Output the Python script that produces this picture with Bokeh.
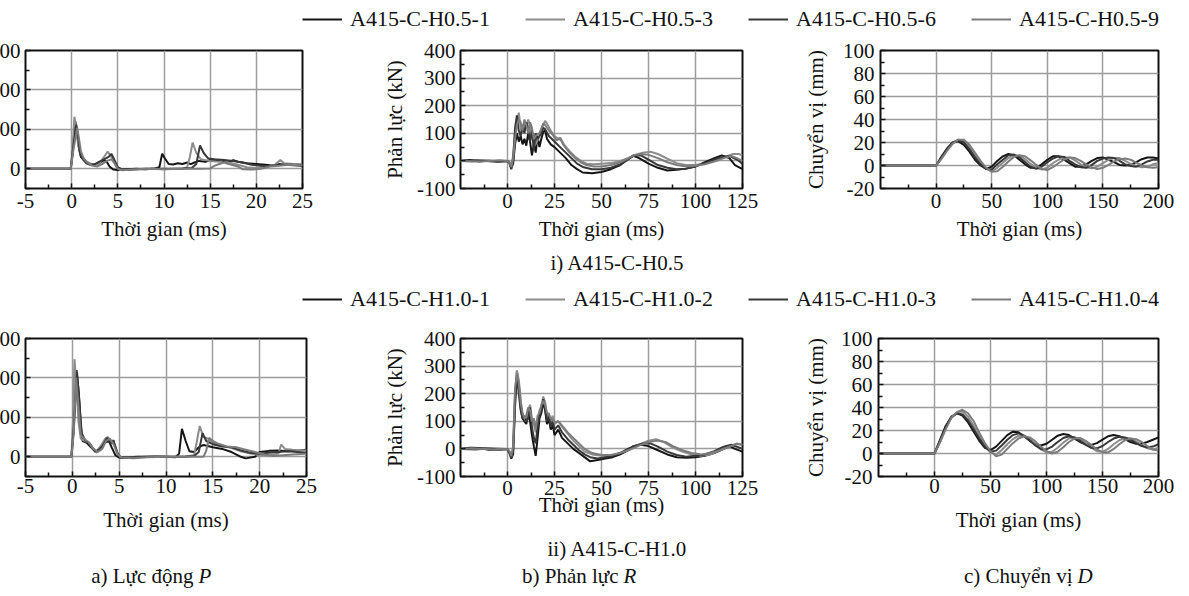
import numpy as np
from bokeh.plotting import figure
from bokeh.models import Range1d, FixedTicker, Legend, LegendItem, Label
from bokeh.layouts import column, row
from bokeh.embed import file_html
from bokeh.resources import INLINE

FONT = "Liberation Serif"
FS = "21px"
LEG_FS = "22px"

SERIES_H05 = ["A415-C-H0.5-1", "A415-C-H0.5-3", "A415-C-H0.5-6", "A415-C-H0.5-9"]
SERIES_H10 = ["A415-C-H1.0-1", "A415-C-H1.0-2", "A415-C-H1.0-3", "A415-C-H1.0-4"]
COLORS = ["#151515", "#8c8c8c", "#383838", "#7c7c7c"]

ROW_TITLES = ["i) A415-C-H0.5", "ii) A415-C-H1.0"]
COL_CAPTIONS = [("a) Lực động", "P"), ("b) Phản lực", "R"), ("c) Chuyển vị", "D")]
X_LABEL = "Thời gian (ms)"
R_LABEL = "Phản lực (kN)"
D_LABEL = "Chuyển vị (mm)"

# ---------- a) dynamic force P (kN) vs time (ms) ----------
P05_1 = [(-5, 0), (-0.1, 0), (0.1, 200), (0.4, 600), (0.6, 450), (0.8, 250), (1.0, 150), (1.3, 120), (1.6, 80),
         (2, 60), (2.5, 40), (3, 70), (3.5, 110), (3.8, 90), (4.1, 30), (4.5, -10), (5, -15), (6, -5), (7, 0),
         (8, -5), (9, 5), (9.5, 20), (9.8, 190), (10.1, 130), (10.5, 60), (11, 55), (11.5, 70), (12, 60),
         (12.5, 80), (12.9, 60), (13.3, 80), (13.8, 100), (14.5, 90), (15, 110), (16, 100), (17, 80), (17.5, 110),
         (18, 90), (19, 70), (20, 60), (21, 50), (22, 40), (22.5, 60), (23, 50), (24, 45), (25, 40)]
P05_2 = [(-5, 0), (-0.1, 0), (0.1, 250), (0.3, 660), (0.5, 500), (0.7, 300), (1, 180), (1.5, 100), (2, 70),
         (2.5, 40), (3, 60), (3.5, 150), (3.9, 220), (4.3, 150), (4.8, 30), (5.2, -10), (6, -15), (7, -10),
         (8, -5), (9, 0), (10, -5), (11, 0), (12, 0), (12.5, 20), (12.8, 150), (13.1, 333), (13.5, 200),
         (14, 120), (14.5, 110), (15, 100), (16, 90), (16.5, 110), (17, 80), (18, 50), (19, 20), (20, 10),
         (21, 30), (22, 50), (22.6, 110), (23, 70), (24, 60), (25, 55)]
P05_3 = [(-5, 0), (-0.1, 0), (0.2, 300), (0.5, 560), (0.7, 400), (0.9, 200), (1.2, 120), (1.6, 70), (2, 50),
         (2.5, 60), (3, 90), (3.5, 120), (4, 150), (4.3, 190), (4.6, 120), (5, 20), (5.5, -10), (6.5, -5),
         (8, 0), (10, 0), (12, 5), (13, 10), (13.5, 60), (13.9, 295), (14.3, 200), (14.8, 130), (15.5, 120),
         (16.5, 110), (17.5, 100), (18.5, 80), (19.5, 50), (20.5, 40), (21.5, 35), (22.5, 50), (23.5, 50), (25, 50)]
P05_4 = [(-5, 0), (-0.1, 0), (0.2, 250), (0.6, 520), (0.8, 380), (1, 220), (1.3, 130), (1.7, 80), (2.2, 40),
         (2.8, 30), (3.3, 60), (3.8, 100), (4.3, 120), (4.6, 80), (5, 0), (5.5, -20), (6.5, -10), (8, 0),
         (10, -5), (12, 0), (14, 0), (15, 5), (15.5, 40), (16, 60), (16.5, 80), (17, 60), (18, 30), (18.5, -5),
         (19.5, -10), (20.5, 0), (21.5, 30), (22.5, 40), (23.5, 50), (25, 45)]

P10_1 = [(-5, 0), (-0.1, 0), (0.1, 300), (0.45, 1100), (0.7, 800), (0.9, 400), (1.1, 200), (1.5, 180), (2, 120),
         (2.5, 60), (3, 120), (3.5, 180), (3.9, 200), (4.2, 120), (4.6, 20), (5, -10), (6, -5), (7, 0), (8, 0),
         (9, 5), (10, 0), (11, -5), (11.4, 40), (11.7, 355), (12.1, 200), (12.5, 70), (13, 60), (13.5, 120),
         (14, 150), (15, 120), (16, 100), (17, 60), (18, 0), (18.5, -20), (19.5, 0), (20, 60), (21, 75), (22, 80),
         (23, 70), (24, 80), (25, 90)]
P10_2 = [(-5, 0), (-0.1, 0), (0.05, 400), (0.23, 1238), (0.45, 900), (0.65, 450), (0.9, 230), (1.3, 200),
         (1.8, 180), (2.2, 100), (2.6, 50), (3, 130), (3.5, 230), (3.8, 250), (4.1, 200), (4.5, 150), (4.9, 30),
         (5.3, -20), (6, -10), (7, -5), (9, 0), (11, 0), (12, 5), (13, 20), (13.3, 200), (13.6, 390), (14, 250),
         (14.5, 230), (15, 180), (16, 140), (17, 110), (18, 70), (19, 40), (20, 20), (21, 15), (22, 40),
         (22.3, 155), (22.7, 100), (23.5, 90), (25, 80)]
P10_3 = [(-5, 0), (-0.1, 0), (0.15, 350), (0.5, 1070), (0.75, 700), (1, 300), (1.4, 200), (1.9, 160), (2.4, 70),
         (2.8, 80), (3.3, 150), (3.7, 240), (4.1, 170), (4.4, 210), (4.8, 50), (5.2, -15), (6, -10), (8, 0),
         (10, 0), (12, 0), (13, 10), (13.5, 60), (13.9, 300), (14.3, 200), (15, 160), (16, 130), (17, 120),
         (18, 80), (19, 50), (20, 40), (21, 50), (22, 60), (23, 70), (24, 60), (25, 50)]
P10_4 = [(-5, 0), (-0.1, 0), (0.15, 300), (0.4, 1000), (0.65, 650), (0.9, 280), (1.3, 220), (1.7, 190),
         (2.2, 110), (2.7, 60), (3.2, 100), (3.6, 200), (4, 230), (4.4, 160), (4.8, 40), (5.2, -10), (6.5, -20),
         (8, -5), (10, 0), (12, 0), (14, 0), (14.3, 80), (14.6, 240), (15, 200), (15.5, 170), (16.5, 130),
         (17.5, 120), (18.5, 90), (19.5, 60), (20.5, 30), (21.5, 10), (22.5, 20), (23.5, 30), (25, 40)]

# ---------- b) reaction force R (kN) vs time (ms) ----------
R05_1 = [(-25, 0), (-20, 3), (-15, -2), (-10, 1), (-5, -3), (0, 0), (1, -5), (2, -25), (3, -10), (4, 60), (5, 100),
         (6, 70), (7, 90), (8, 60), (9, 80), (10, 55), (11, 100), (12, 70), (13, 20), (14, 60), (15, 30), (16, 90),
         (17, 50), (18, 80), (19, 105), (20, 110), (21, 80), (23, 60), (25, 50), (28, 30), (31, 10), (34, -15),
         (37, -30), (40, -42), (45, -45), (50, -40), (55, -30), (60, -15), (64, 5), (67, 18), (70, 10), (75, -10),
         (80, -25), (85, -35), (90, -32), (95, -28), (100, -20), (105, -5), (110, 10), (114, 20), (118, 10),
         (121, -15), (125, -30)]
R05_2 = [(-25, 0), (-18, -2), (-12, 2), (-6, -1), (0, 0), (1, -5), (2, -20), (3, 20), (4, 100), (5, 140), (6, 175),
         (7, 120), (8, 100), (9, 140), (10, 120), (11, 150), (12, 130), (13, 90), (14, 100), (15, 60), (17, 90),
         (19, 130), (20, 145), (21, 135), (23, 110), (25, 90), (27, 80), (28, 85), (30, 60), (33, 35), (36, 15),
         (39, 0), (42, -10), (46, -12), (50, -10), (55, -8), (60, 0), (64, 10), (68, 22), (72, 30), (76, 33),
         (80, 25), (85, 8), (90, -8), (95, -15), (100, -15), (105, -10), (110, 0), (115, 12), (120, 25),
         (123, 25), (125, 20)]
R05_3 = [(-25, 0), (-16, 2), (-8, -2), (0, 0), (1, -8), (2, -30), (3, 0), (4, 120), (5, 165), (6, 110), (7, 90),
         (8, 130), (9, 100), (10, 140), (11, 120), (12, 70), (13, 110), (14, 40), (15, 100), (16, 80), (17, 90),
         (18, 100), (19, 120), (20, 115), (22, 90), (25, 70), (28, 50), (31, 30), (34, 10), (37, -10), (40, -22),
         (45, -30), (50, -30), (55, -25), (60, -12), (64, 5), (67, 20), (71, 20), (75, 5), (80, -15), (85, -25),
         (90, -30), (95, -28), (100, -20), (105, -8), (110, 5), (115, 15), (118, 18), (122, 5), (125, -10)]
R05_4 = [(-25, 0), (-14, -2), (-4, 2), (0, 0), (1, -5), (2, -22), (3, 10), (4, 80), (5, 130), (6, 150), (7, 140),
         (8, 110), (9, 150), (10, 130), (11, 100), (12, 140), (13, 120), (14, 80), (15, 90), (17, 100), (19, 135),
         (20, 130), (22, 110), (24, 95), (26, 75), (28, 80), (30, 55), (33, 30), (36, 10), (39, -5), (42, -15),
         (46, -20), (50, -20), (55, -15), (60, -5), (64, 8), (67, 20), (71, 25), (75, 22), (80, 10), (85, -5),
         (90, -15), (95, -20), (100, -18), (105, -12), (110, -2), (115, 10), (119, 18), (122, 10), (125, 0)]

R10_1 = [(-25, 0), (-20, 4), (-15, 3), (-10, -3), (-5, -2), (0, 0), (1, -15), (2, -35), (3, -20), (4, 150),
         (5, 280), (6, 230), (7, 150), (8, 110), (9, 100), (10, 90), (11, 130), (12, 100), (13, 50), (14, 10),
         (15, -25), (16, 40), (17, 110), (18, 130), (19, 170), (20, 140), (21, 90), (22, 110), (23, 70), (24, 90),
         (25, 50), (27, 70), (29, 40), (32, 20), (35, 0), (38, -15), (41, -30), (44, -45), (48, -40), (52, -35),
         (56, -30), (60, -20), (64, -5), (67, 10), (71, 15), (75, 10), (80, -5), (85, -20), (90, -30), (95, -32),
         (100, -30), (105, -25), (110, -15), (115, 0), (118, 10), (121, 0), (125, -10)]
R10_2 = [(-25, 0), (-17, -3), (-9, 3), (0, 0), (1, -10), (2, -30), (3, 0), (4, 200), (5, 285), (6, 250), (7, 180),
         (8, 120), (9, 110), (10, 100), (11, 140), (12, 160), (13, 110), (14, 90), (15, 60), (16, 100), (17, 140),
         (18, 150), (19, 190), (20, 170), (21, 120), (22, 130), (23, 100), (24, 120), (25, 90), (27, 100),
         (29, 80), (32, 55), (35, 30), (38, 10), (41, -10), (45, -20), (50, -25), (55, -25), (60, -15), (65, 0),
         (70, 15), (75, 30), (79, 35), (83, 25), (88, 5), (93, -10), (98, -20), (103, -25), (108, -20),
         (113, -5), (118, 10), (122, 20), (125, 15)]
R10_3 = [(-25, 0), (-12, 2), (-4, -3), (0, 0), (1, -12), (2, -30), (3, -5), (4, 180), (5, 260), (6, 200),
         (7, 140), (8, 110), (9, 120), (10, 100), (11, 110), (12, 150), (13, 80), (14, 40), (15, 20), (16, 80),
         (17, 120), (18, 140), (19, 180), (20, 150), (21, 100), (22, 120), (23, 80), (24, 100), (25, 70),
         (27, 85), (29, 60), (32, 35), (35, 15), (38, -5), (41, -20), (44, -30), (48, -35), (52, -30), (56, -25),
         (60, -15), (64, 0), (68, 12), (72, 20), (76, 20), (80, 8), (85, -10), (90, -22), (95, -28), (100, -25),
         (105, -20), (110, -8), (115, 8), (119, 15), (122, 8), (125, 0)]
R10_4 = [(-25, 0), (-19, 2), (-7, -2), (0, 0), (1, -8), (2, -25), (3, 10), (4, 220), (5, 270), (6, 240), (7, 170),
         (8, 130), (9, 110), (10, 120), (11, 150), (12, 140), (13, 100), (14, 110), (15, 70), (16, 120),
         (17, 130), (18, 160), (19, 175), (20, 160), (21, 130), (22, 125), (23, 110), (24, 105), (25, 95),
         (27, 100), (29, 85), (32, 60), (35, 40), (38, 20), (41, 0), (45, -15), (50, -22), (55, -22), (60, -15),
         (65, -3), (70, 12), (75, 25), (80, 30), (84, 25), (88, 10), (93, -5), (98, -15), (103, -20), (108, -15),
         (113, -5), (118, 8), (122, 18), (125, 15)]

# ---------- c) displacement D (mm) vs time (ms) ----------
D_T = [-50, 0, 5, 10, 15, 20, 25, 30, 35, 40, 45, 50, 55, 60, 65, 70, 75, 80, 85, 90, 95, 100,
       105, 110, 115, 120, 125, 130, 135, 140, 145, 150, 155, 160, 165, 170, 175, 180, 185, 190, 195, 200]
D05_1 = [0, 0, 8, 15, 20, 21, 18, 12, 5, 0, -3, -1, 4, 8, 10, 9, 5, 1, -2, -2, 1, 5,
         8, 8, 5, 2, -1, -1, 1, 4, 6.5, 7, 5, 3, 0.5, 0, 0.5, 3, 5.5, 7, 7, 6]
D05_2 = [0, 0, 6.5, 13.5, 19.5, 22.5, 21, 16, 9, 2.5, -2.5, -5, -2, 2.5, 6.5, 9, 8.5, 5.5, 1.5, -2, -3.5, -2,
         2, 5, 7, 7, 4.5, 1, -1.5, -2.5, -1, 2, 5, 6.5, 6.5, 4, 1.5, -0.5, -1.5, -1, 1, 2]
D05_3 = [0, 0, 7, 14, 20, 22, 20, 14, 7, 1, -3, -3.5, 1, 5, 9, 9.5, 7, 3, -1, -3, -1, 3,
         6, 8, 7.5, 4, 1, -1.5, -2, 0.5, 4, 6, 7, 6.5, 4, 1, -0.5, -1, 1, 3.5, 5, 5]
D05_4 = [0, 0, 6, 13, 19, 22.5, 22.5, 18, 11, 4, -2, -5.5, -5, -1, 3.5, 7.5, 9, 8, 4.5, 0.5, -3, -4,
         -1.5, 2, 5, 7, 6.5, 4, 1, -1.5, -3, -2, 0.5, 3.5, 5.5, 6, 5, 2.5, 0, -1.5, -2, -1.5]

D10_1 = [0, 0, 12, 24, 32, 35, 33, 27, 19, 11, 5, 3, 6, 11, 16, 19, 18.5, 15, 11, 8, 7, 8.5,
         12, 15.5, 17, 16, 13, 10, 8, 7.5, 9, 12, 15, 16, 15, 12.5, 10, 8.5, 8.5, 10, 12, 14]
D10_2 = [0, 0, 10, 22, 31, 36, 36.5, 32, 24, 15, 7, 1, -1, 3, 8, 12.5, 15.5, 15.5, 12.5, 8, 3.5, 1,
         1.5, 5, 9.5, 13, 14, 12.5, 9, 5, 2, 1.5, 4, 8, 11.5, 13.5, 13, 10.5, 7, 4.5, 3.5, 5]
D10_3 = [0, 0, 11, 23, 31, 35, 34, 29, 21, 13, 6, 1.5, 2.5, 7, 12, 16, 17.5, 15.5, 11.5, 7, 4, 3.5,
         6, 10, 13.5, 15, 14, 11, 7.5, 5, 4.5, 6.5, 10, 13, 14.5, 14, 12, 9, 6.5, 5.5, 6, 8]
D10_4 = [0, 0, 10, 21, 31, 36, 38, 35, 28, 18, 9, 2, -2.5, -1, 4, 9, 13, 15, 14, 10.5, 6, 2,
         0, 1.5, 5.5, 10, 13, 13.5, 11, 7.5, 3.5, 1, 1, 4, 8, 11.5, 13, 12.5, 10, 6.5, 3.5, 2.5]

# axis definitions
P_XR, P_XT, P_XM = (-5, 25), [-5, 0, 5, 10, 15, 20, 25], [-2.5, 2.5, 7.5, 12.5, 17.5, 22.5]
P_YR, P_YT, P_YM = (-250, 1500), [0, 500, 1000, 1500], [-250, 250, 750, 1250]
R_XR, R_XT, R_XM = (-25, 125), [0, 25, 50, 75, 100, 125], [-12.5, 12.5, 37.5, 62.5, 87.5, 112.5]
R_YR, R_YT, R_YM = (-100, 400), [-100, 0, 100, 200, 300, 400], [-50, 50, 150, 250, 350]
D_XR, D_XT, D_XM = (-50, 200), [0, 50, 100, 150, 200], [-25, 25, 75, 125, 175]
D_YR, D_YT, D_YM = (-20, 100), [-20, 0, 20, 40, 60, 80, 100], [-10, 10, 30, 50, 70, 90]

ROOT_W = 1205


def plain_minus(ticks):
    return {t: ("-" + str(abs(t))) for t in ticks if t < 0}


def panel(w, h, bl, br, bt, bb, xr, xt, xm, yr, yt, ym, ylabel, ystand, ylab_stand, xstand, xlab_stand, curves):
    p = figure(width=w, height=h, title=None, x_range=Range1d(*xr), y_range=Range1d(*yr),
               output_backend="svg", toolbar_location=None,
               min_border_left=bl, min_border_right=br, min_border_top=bt, min_border_bottom=bb)
    p.background_fill_color = "white"
    p.border_fill_color = "white"
    p.outline_line_color = "#111111"
    p.outline_line_width = 2
    p.xaxis.ticker = FixedTicker(ticks=xt, minor_ticks=xm)
    p.yaxis.ticker = FixedTicker(ticks=yt, minor_ticks=ym)
    p.xaxis.major_label_overrides = plain_minus(xt)
    p.yaxis.major_label_overrides = plain_minus(yt)
    for ax in (p.xaxis[0], p.yaxis[0]):
        ax.axis_line_color = None
        ax.major_tick_in = 5
        ax.major_tick_out = 0
        ax.minor_tick_in = 4
        ax.minor_tick_out = 0
        ax.major_tick_line_color = "#111111"
        ax.minor_tick_line_color = "#111111"
        ax.major_tick_line_width = 1.5
        ax.minor_tick_line_width = 1.5
        ax.major_label_text_font = FONT
        ax.major_label_text_font_size = FS
        ax.major_label_text_color = "#111111"
        ax.axis_label_text_font = FONT
        ax.axis_label_text_font_size = FS
        ax.axis_label_text_font_style = "normal"
        ax.axis_label_text_color = "#111111"
    p.xaxis.axis_label = X_LABEL
    p.xaxis.major_label_standoff = xstand
    p.xaxis.axis_label_standoff = xlab_stand
    if ylabel:
        p.yaxis.axis_label = ylabel
    p.yaxis.major_label_standoff = ystand
    p.yaxis.axis_label_standoff = ylab_stand
    p.grid.grid_line_color = "#9c9c9c"
    p.grid.grid_line_width = 1.5
    for (xs, ys), c in zip(curves, COLORS):
        p.line(xs, ys, line_color=c, line_width=2)
    return p


def unzip(pts):
    return [a for a, _ in pts], [b for _, b in pts]


def blank_fig(h):
    f = figure(width=ROOT_W, height=h, title=None, x_range=Range1d(0, 1), y_range=Range1d(0, 1),
               output_backend="svg", toolbar_location=None, min_border=0,
               x_axis_location=None, y_axis_location=None)
    f.grid.visible = False
    f.outline_line_color = None
    return f


def legend_fig(h, names, ybot):
    f = blank_fig(h)
    items = []
    for name, c in zip(names, COLORS):
        r = f.line(x=np.array([np.nan]), y=np.array([np.nan]), line_color=c, line_width=2)
        items.append(LegendItem(label=name, renderers=[r]))
    lg = Legend(items=items, orientation="horizontal", location=(327, ybot), padding=0, margin=0,
                spacing=30, glyph_width=40, glyph_height=20, label_standoff=8, label_width=145,
                label_text_font=FONT, label_text_font_size=LEG_FS, label_text_color="#111111",
                border_line_color=None, background_fill_alpha=0)
    f.add_layout(lg)
    return f


def text_fig(h, labels):
    f = blank_fig(h)
    for (x, y, t, align, style) in labels:
        f.add_layout(Label(x=x, y=y, x_units="screen", y_units="screen", text=t, text_align=align,
                           text_baseline="middle", text_font=FONT, text_font_size=FS,
                           text_font_style=style, text_color="#111111"))
    return f


# top row (H0.5)
pP1 = panel(405, 213, 50, 78, 14, 60, P_XR, P_XT, P_XM, P_YR, P_YT, P_YM, None, 5, 8, 5, 6,
            [unzip(s) for s in (P05_1, P05_2, P05_3, P05_4)])
pR1 = panel(420, 213, 80, 58, 14, 59, R_XR, R_XT, R_XM, R_YR, R_YT, R_YM, R_LABEL, 5, 7, 5, 6,
            [unzip(s) for s in (R05_1, R05_2, R05_3, R05_4)])
pD1 = panel(380, 213, 76, 22, 13, 61, D_XR, D_XT, D_XM, D_YR, D_YT, D_YM, D_LABEL, 6, 12, 5, 6,
            [(D_T, s) for s in (D05_1, D05_2, D05_3, D05_4)])

# bottom row (H1.0)
pP2 = panel(405, 220, 50, 74, 20, 60, P_XR, P_XT, P_XM, P_YR, P_YT, P_YM, None, 5, 8, 2, 12,
            [unzip(s) for s in (P10_1, P10_2, P10_3, P10_4)])
pR2 = panel(420, 220, 80, 58, 22, 60, R_XR, R_XT, R_XM, R_YR, R_YT, R_YM, R_LABEL, 5, 7, 4, -5,
            [unzip(s) for s in (R10_1, R10_2, R10_3, R10_4)])
pD2 = panel(380, 220, 78, 22, 19, 60, D_XR, D_XT, D_XM, D_YR, D_YT, D_YM, D_LABEL, 6, 10, 2, 12,
            [(D_T, s) for s in (D10_1, D10_2, D10_3, D10_4)])

leg1 = legend_fig(36, SERIES_H05, 4)
leg2 = legend_fig(34, SERIES_H10, 4)
cap1 = text_fig(33, [(642, 20, ROW_TITLES[0], "center", "normal")])
cap2 = text_fig(26, [(642, 14, ROW_TITLES[1], "center", "normal")])
caps = text_fig(26, [
    (218, 13, COL_CAPTIONS[0][0], "right", "normal"), (223, 13, COL_CAPTIONS[0][1], "left", "italic"),
    (643, 13, COL_CAPTIONS[1][0], "right", "normal"), (648, 13, COL_CAPTIONS[1][1], "left", "italic"),
    (1097, 13, COL_CAPTIONS[2][0], "right", "normal"), (1102, 13, COL_CAPTIONS[2][1], "left", "italic"),
])

root = column(leg1, row(pP1, pR1, pD1, spacing=0), cap1,
              leg2, row(pP2, pR2, pD2, spacing=0), cap2, caps,
              spacing=0, margin=(0, 0, 0, -25))

open("out.html", "w").write(file_html(root, INLINE))
